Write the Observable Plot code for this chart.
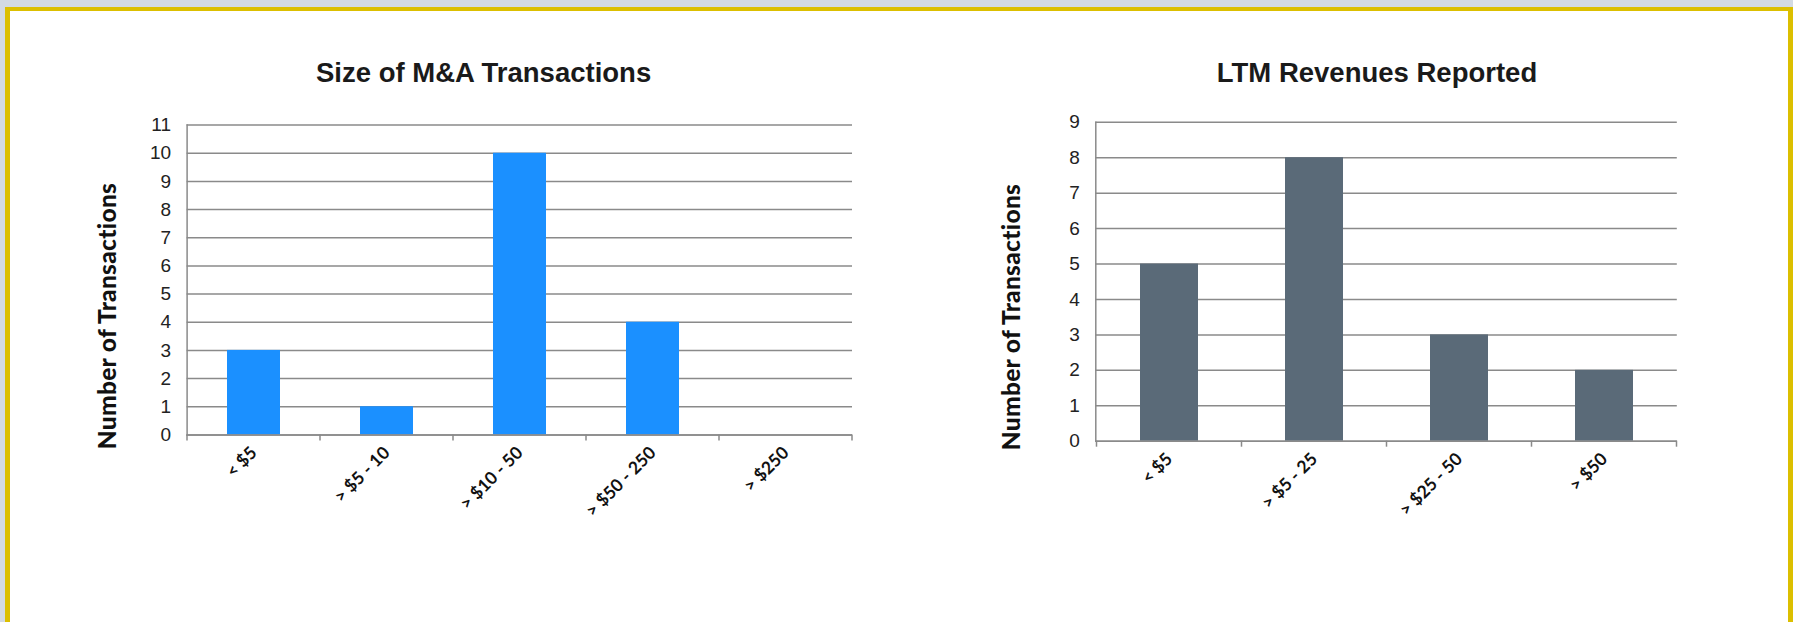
<!DOCTYPE html>
<html><head><meta charset="utf-8">
<script src="https://cdn.jsdelivr.net/npm/d3@7"></script>
<script src="https://cdn.jsdelivr.net/npm/@observablehq/plot@0.6"></script>
<style>
html,body{margin:0;padding:0;}
body{width:1793px;height:622px;background:#d3dae2;position:relative;overflow:hidden;}
#frame{position:absolute;left:5px;top:7px;width:1778px;height:620px;background:#fff;border-left:5px solid #dcbf00;border-top:4px solid #dcbf00;border-right:5px solid #dcbf00;}
.chart{position:absolute;top:100px;}
.title{position:absolute;top:58.7px;font-family:"Liberation Sans",Arial,sans-serif;font-weight:bold;font-size:27.5px;line-height:27.5px;color:#1a1a1a;transform:translateX(-50%);white-space:nowrap;}
.ylab{position:absolute;font-family:Lato,sans-serif;font-weight:900;font-size:24.5px;line-height:24.5px;letter-spacing:0.3px;color:#111;white-space:nowrap;transform:translate(-50%,-50%) rotate(-90deg);}
</style>
</head><body>
<div id="frame"></div>
<div class="title" style="left:483.6px">Size of M&amp;A Transactions</div>
<div class="title" style="left:1377px">LTM Revenues Reported</div>
<div class="ylab" style="left:106.5px;top:315.5px">Number of Transactions</div>
<div class="ylab" style="left:1010.5px;top:316.7px">Number of Transactions</div>
<div id="left" class="chart" style="left:0px"></div>
<div id="right" class="chart" style="left:900px"></div>
<script>
// ---- data ----
const sizeCategories = ["< $5", "> $5 - 10", "> $10 - 50", "> $50 - 250", "> $250"];
const sizeValues = [3, 1, 10, 4, 0];
const sizeTicks = [0, 1, 2, 3, 4, 5, 6, 7, 8, 9, 10, 11];

const revCategories = ["< $5", "> $5 - 25", "> $25 - 50", "> $50"];
const revValues = [5, 8, 3, 2];
const revTicks = [0, 1, 2, 3, 4, 5, 6, 7, 8, 9];

const GRID = "#8a8a8a";

function boundaryTicks(categories) {
  return (index, scales, values, dims) => {
    const x = scales.x;
    const g = d3.create("svg:g");
    const y0 = dims.height - dims.marginBottom;
    const step = x.step ? x.step() : (dims.width - dims.marginLeft - dims.marginRight) / categories.length;
    const bw = x.bandwidth ? x.bandwidth() : step * 0.4;
    const edges = categories.map(c => x(c) - (step - bw) / 2);
    edges.push(edges[edges.length - 1] + step);
    for (const e of edges) {
      g.append("line").attr("x1", e).attr("x2", e).attr("y1", y0).attr("y2", y0 + 6)
        .attr("stroke", GRID).attr("stroke-width", 1.5);
    }
    return g.node();
  };
}

function chart(categories, values, ticks, color, opts) {
  const data = categories.map((c, i) => ({cat: c, val: values[i]}));
  return Plot.plot({
    width: opts.width,
    height: 440,
    marginLeft: opts.ml, marginRight: opts.mr, marginTop: opts.mt, marginBottom: opts.mb,
    style: {background: "transparent", fontFamily: "'Liberation Sans', Arial, sans-serif", color: "#1a1a1a"},
    x: {type: "band", domain: categories, paddingInner: 0.6, paddingOuter: 0.3},
    y: {domain: [0, ticks[ticks.length - 1]]},
    marks: [
      Plot.gridY(ticks, {stroke: GRID, strokeOpacity: 1, strokeWidth: 1.5}),
      Plot.barY(data, {x: "cat", y: "val", fill: color}),
      Plot.ruleY([0], {stroke: GRID, strokeWidth: 1.5}),
      Plot.frame({anchor: "left", stroke: GRID, strokeWidth: 1.5}),
      boundaryTicks(categories),
      Plot.axisY(ticks, {tickSize: 0, tickPadding: 16, fontSize: 19, label: null, fill: "#222"}),
      Plot.axisX({tickSize: 0, tickRotate: -45, tickPadding: 15, fontSize: 17.5, fontFamily: "Lato, sans-serif", fontWeight: 700, label: null, fill: "#111"})
    ]
  });
}

document.getElementById("left").append(
  chart(sizeCategories, sizeValues, sizeTicks, "#1b90ff", {width: 900, ml: 186.6, mr: 48, mt: 24.6, mb: 105.6})
);
document.getElementById("right").append(
  chart(revCategories, revValues, revTicks, "#5a6a78", {width: 893, ml: 195.3, mr: 116.2, mt: 21.8, mb: 99.3})
);
</script>
</body></html>
